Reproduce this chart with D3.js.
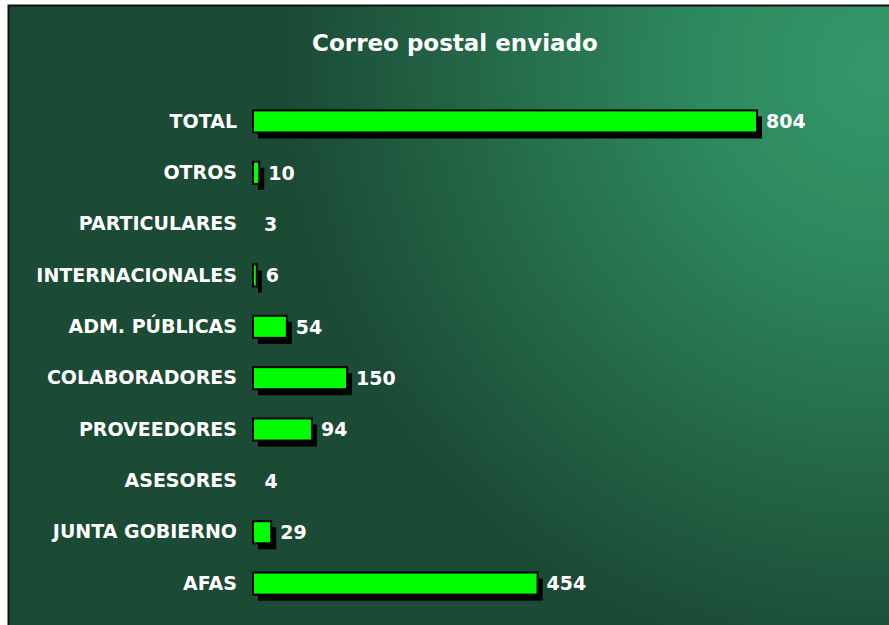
<!DOCTYPE html>
<html>
<head>
<meta charset="utf-8">
<script src="https://cdn.jsdelivr.net/npm/d3@7"></script>
<style>
  html, body { margin: 0; padding: 0; background: #ffffff; }
  svg { display: block; }
</style>
</head>
<body>
<div id="viz"></div>
<script>
const WIDTH = 889;
const HEIGHT = 625;

const TITLE = "Correo postal enviado";
const CATEGORIES = [
  "TOTAL", "OTROS", "PARTICULARES", "INTERNACIONALES", "ADM. PÚBLICAS",
  "COLABORADORES", "PROVEEDORES", "ASESORES", "JUNTA GOBIERNO", "AFAS"
];
const VALUES = [804, 10, 3, 6, 54, 150, 94, 4, 29, 454];

const FONT = "'DejaVu Sans', Verdana, sans-serif";
const PLOT = { left: 253, right: 757, top: 96, bottom: 609 };
const SHADOW = { dx: 5, dy: 6 };

const svg = d3.select("#viz").append("svg")
  .attr("width", WIDTH)
  .attr("height", HEIGHT);

const defs = svg.append("defs");
const bg = defs.append("radialGradient")
  .attr("id", "bg")
  .attr("gradientUnits", "userSpaceOnUse")
  .attr("cx", 880).attr("cy", 70).attr("r", 700);
bg.append("stop").attr("offset", "0%").attr("stop-color", "#35986a");
bg.append("stop").attr("offset", "25%").attr("stop-color", "#2e8a5e");
bg.append("stop").attr("offset", "85%").attr("stop-color", "#1b4a35");
bg.append("stop").attr("offset", "100%").attr("stop-color", "#1b4a35");

// chart area with its thin dark frame
svg.append("rect")
  .attr("x", 8.5).attr("y", 5.5)
  .attr("width", WIDTH + 10).attr("height", HEIGHT + 10)
  .attr("fill", "url(#bg)")
  .attr("stroke", "#111")
  .attr("stroke-width", 2);

svg.append("text")
  .attr("x", 455)
  .attr("y", 51)
  .attr("text-anchor", "middle")
  .attr("fill", "#ffffff")
  .attr("font-family", FONT)
  .attr("font-weight", "bold")
  .attr("font-size", 23)
  .text(TITLE);

const x = d3.scaleLinear()
  .domain([0, d3.max(VALUES)])
  .range([PLOT.left, PLOT.right]);

const y = d3.scaleBand()
  .domain(CATEGORIES)
  .range([PLOT.top, PLOT.bottom])
  .paddingInner(0.57)
  .paddingOuter(0.28);

const rows = CATEGORIES.map((name, i) => ({ name, value: VALUES[i] }));
// Excel leaves out bars narrower than a couple of pixels
const visible = rows.filter(d => x(d.value) - x(0) >= 3);

const plot = svg.append("g");

plot.selectAll("rect.shadow")
  .data(visible)
  .join("rect")
  .attr("class", "shadow")
  .attr("x", x(0) + SHADOW.dx)
  .attr("y", d => y(d.name) + SHADOW.dy)
  .attr("width", d => x(d.value) - x(0))
  .attr("height", y.bandwidth())
  .attr("fill", "#000000");

plot.selectAll("rect.bar")
  .data(visible)
  .join("rect")
  .attr("class", "bar")
  .attr("x", x(0))
  .attr("y", d => y(d.name))
  .attr("width", d => x(d.value) - x(0))
  .attr("height", y.bandwidth())
  .attr("fill", "#00ff00")
  .attr("stroke", "#000000")
  .attr("stroke-width", 2);

const yAxis = d3.axisLeft(y).tickSize(0).tickPadding(16);
const axisG = svg.append("g")
  .attr("transform", `translate(${PLOT.left},0)`)
  .call(yAxis);
axisG.select(".domain").remove();
axisG.selectAll("text")
  .attr("fill", "#ffffff")
  .attr("font-family", FONT)
  .attr("font-weight", "bold")
  .attr("font-size", 19);

plot.selectAll("text.value")
  .data(rows)
  .join("text")
  .attr("class", "value")
  .attr("x", d => x(d.value) + 9)
  .attr("y", d => y(d.name) + y.bandwidth() / 2)
  .attr("dy", "0.36em")
  .attr("fill", "#ffffff")
  .attr("font-family", FONT)
  .attr("font-weight", "bold")
  .attr("font-size", 19)
  .text(d => d.value);
</script>
</body>
</html>
